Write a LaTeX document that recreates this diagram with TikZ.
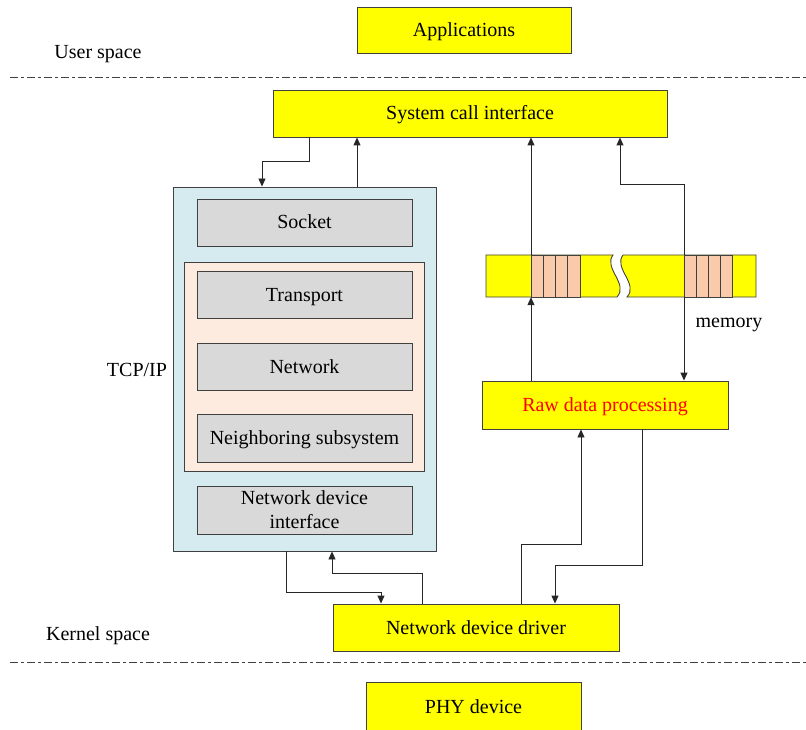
\documentclass[tikz,border=0pt]{standalone}
\usepackage{fontspec}
\setmainfont{Liberation Serif}
\usetikzlibrary{arrows.meta,calc}
\definecolor{boxyellow}{HTML}{FFFF00}
\definecolor{tcpblue}{HTML}{D6EBF0}
\definecolor{peach}{HTML}{FDEBDF}
\definecolor{inngray}{HTML}{D9D9D9}
\definecolor{cellpink}{HTML}{F9CBAA}
\definecolor{edge}{HTML}{404040}
\tikzset{
  every node/.style={font=\fontsize{20}{24}\selectfont, text height=13pt, text depth=0pt},
  ybox/.style={draw=edge, line width=0.9pt, fill=boxyellow, inner sep=0pt, align=center},
  gbox/.style={draw=edge, line width=0.9pt, fill=inngray, inner sep=0pt, align=center, minimum width=215pt},
  arr/.style={draw=black!85, line width=0.9pt, -{Triangle[length=8pt,width=7pt]}},
  plain/.style={draw=black!85, line width=0.9pt},
  sep/.style={draw=black!75, line width=0.8pt, dash pattern=on 8pt off 3pt on 3pt off 3pt},
  lbl/.style={inner sep=0pt}
}
\begin{document}
\begin{tikzpicture}[x=1pt,y=-1pt]
\useasboundingbox (0,0) rectangle (806,730);
% separators
\draw[sep] (10,77) coordinate (s1a) -- (806,77) coordinate (s1b);
\draw[sep] (10,662) coordinate (s2a) -- (806,662) coordinate (s2b);
% labels
\node[lbl] (us) at (98,52) {User space};
\node[lbl] (ks) at (98,634) {Kernel space};
\node[lbl] (tcplbl) at (137,370) {TCP/IP};
\node[lbl] (memlbl) at (729,321) {memory};
% main boxes
\node[ybox, minimum width=214pt, minimum height=46pt] (app) at (464,30) {Applications};
\node[ybox, minimum width=394pt, minimum height=47pt] (sci) at (470,113.5) {System call interface};
\node[draw=edge, line width=0.9pt, fill=tcpblue, minimum width=263pt, minimum height=364pt, inner sep=0pt] (tcp) at (304.5,369) {};
\node[gbox, minimum height=47pt] (sock) at (304.5,222.5) {Socket};
\node[draw=edge, line width=0.9pt, fill=peach, minimum width=240pt, minimum height=209pt, inner sep=0pt] (peachbox) at (304,366.5) {};
\node[gbox, minimum height=47pt] (trans) at (304.5,294.5) {Transport};
\node[gbox, minimum height=47pt] (net) at (304.5,366.5) {Network};
\node[gbox, minimum height=48pt] (neigh) at (304.5,438) {Neighboring subsystem};
\node[gbox, minimum height=48pt, text height=37pt] (ndi) at (304.5,510) {Network device\\interface};
\node[ybox, minimum width=246pt, minimum height=48pt, text=red] (raw) at (605,405) {Raw data processing};
\node[ybox, minimum width=286pt, minimum height=47pt] (ndd) at (476,627.5) {Network device driver};
\node[ybox, minimum width=215pt, minimum height=50pt] (phy) at (473.5,707) {PHY device};
% memory bar
\node[minimum width=270pt, minimum height=42pt, inner sep=0pt] (mem) at (621,276) {};
\draw[draw=edge, line width=0.9pt, fill=boxyellow]
  (486,255) -- (613,255) .. controls (603,268) and (629,284) .. (617,297) -- (486,297) -- cycle;
\draw[draw=edge, line width=0.9pt, fill=boxyellow]
  (623,255) -- (756,255) -- (756,297) -- (627,297) .. controls (639,284) and (613,268) .. (623,255);
\foreach \a in {531,543.25,555.5,567.75}{
  \draw[draw=edge, line width=0.9pt, fill=cellpink] (\a,255) rectangle ++(12.25,42);
}
\foreach \a in {684,696,708,720}{
  \draw[draw=edge, line width=0.9pt, fill=cellpink] (\a,255) rectangle ++(12,42);
}
% connectors
\draw[arr] ([xshift=-161pt]sci.south) -- ++(0,24) -| ([xshift=-42.5pt]tcp.north);
\draw[arr] ([xshift=52.5pt]tcp.north) -- ([xshift=52.5pt]tcp.north |- sci.south);
\draw[arr] ([xshift=-74pt]raw.north) -- ([xshift=-74pt]raw.north |- mem.south);
\draw[arr] ([xshift=-74pt]raw.north |- mem.north) -- ([xshift=-74pt]raw.north |- sci.south);
\draw[arr] ([xshift=79pt]raw.north |- mem.north) -- ++(0,-70) -| ([xshift=150pt]sci.south);
\draw[arr] ([xshift=79pt]raw.north |- mem.south) -- ([xshift=79pt]raw.north);
\draw[arr] ([xshift=45pt]ndd.north) -- ++(0,-59) -| ([xshift=-24pt]raw.south);
\draw[arr] ([xshift=37pt]raw.south) -- ++(0,136) -| ([xshift=79pt]ndd.north);
\draw[arr] ([xshift=-18.5pt]tcp.south) -- ++(0,41) -| ([xshift=-95pt]ndd.north);
\draw[arr] ([xshift=-54pt]ndd.north) -- ++(0,-30) -| ([xshift=27.5pt]tcp.south);
\end{tikzpicture}
\end{document}
